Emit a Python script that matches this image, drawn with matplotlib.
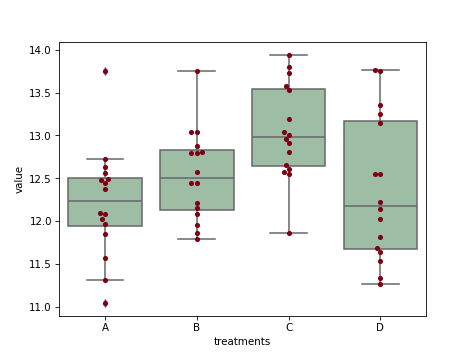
import pandas as pd
import seaborn as sns
import matplotlib
matplotlib.use("Agg")
import matplotlib.pyplot as plt

treatments = ["A", "B", "C", "D"]
val_a = [13.75, 12.73, 12.63, 12.56, 12.49, 12.48, 12.44, 12.38,
         12.10, 12.08, 12.02, 11.97, 11.85, 11.57, 11.31, 11.04]
val_b = [13.75, 13.04, 13.04, 12.88, 12.81, 12.80, 12.80, 12.57,
         12.44, 12.44, 12.21, 12.15, 12.08, 11.95, 11.86, 11.79]
val_c = [13.94, 13.80, 13.73, 13.58, 13.53, 13.19, 13.04, 13.01,
         12.96, 12.91, 12.81, 12.66, 12.61, 12.57, 12.55, 11.86]
val_d = [13.76, 13.75, 13.36, 13.25, 13.14, 12.55, 12.55, 12.22,
         12.14, 12.02, 11.82, 11.69, 11.64, 11.53, 11.34, 11.27]

df = pd.DataFrame({"A": val_a, "B": val_b, "C": val_c, "D": val_d})
df_melt = pd.melt(df.reset_index(), id_vars=["index"], value_vars=treatments)
df_melt.columns = ["index", "treatments", "value"]

gray = "#686868"
fig = plt.figure(figsize=(6.4, 4.8), dpi=74)
ax = sns.boxplot(x="treatments", y="value", data=df_melt, color="#99c2a2",
                 linewidth=1.5, linecolor=gray,
                 flierprops={"marker": "d", "markerfacecolor": gray,
                             "markeredgecolor": gray, "markersize": 5})
ax = sns.swarmplot(x="treatments", y="value", data=df_melt, color="#7d0013")
plt.savefig("out.png", dpi=74)
